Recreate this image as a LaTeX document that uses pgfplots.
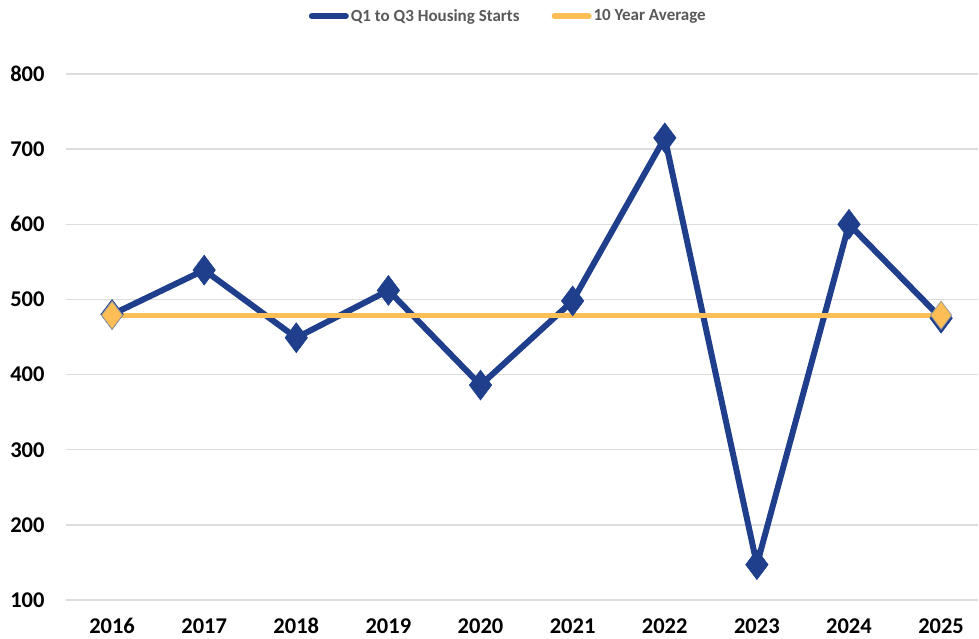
\documentclass[border=0pt]{standalone}
\usepackage{pgfplots}
\pgfplotsset{compat=1.18}
\usepackage{fontspec}
\setmainfont{Carlito}
\definecolor{blueline}{HTML}{1F3F8C}
\definecolor{orangeline}{HTML}{FDBE55}
\definecolor{gridgray}{HTML}{DDDDDD}
\definecolor{legtext}{HTML}{595959}
\begin{document}
\begin{tikzpicture}
\path[use as bounding box] (0,0) rectangle (979bp,-639bp);
\begin{axis}[
  at={(66bp,-600bp)}, anchor=south west,
  scale only axis, width=912bp, height=526bp,
  xmin=2015.5, xmax=2025.4, ymin=100, ymax=800,
  axis line style={draw=none},
  xtick={2016,...,2025}, ytick={100,200,...,800},
  xticklabel style={/pgf/number format/1000 sep={}},
  /pgf/number format/assume math mode=true,
  major tick length=0pt,
  ymajorgrids, grid style={gridgray, line width=1.5bp},
  tick label style={font=\fontsize{22.5bp}{24bp}\selectfont\bfseries, text=black},
  yticklabel style={xshift=-18bp},
  xticklabel style={yshift=-15bp, text height=15bp, text depth=0bp},
  legend columns=2,
  legend style={at={(0.485,1.11)}, anchor=center, draw=none, fill=none,
    font=\fontsize{17bp}{19bp}\selectfont\bfseries, text=legtext,
    /tikz/every even column/.append style={column sep=30bp}},
  legend image code/.code={\draw[#1, line width=6bp, line cap=round] (0bp,0bp) -- (34bp,0bp);},
]
\addplot[blueline, line width=6bp, mark=diamond*, mark size=15bp, mark options={fill=blueline, draw=blueline, line width=0.5bp}] coordinates {
(2016,480) (2017,539) (2018,449) (2019,512) (2020,386) (2021,498) (2022,715) (2023,147) (2024,600) (2025,475)};
\addlegendentry{Q1 to Q3 Housing Starts}
\addplot[orangeline, line width=5bp, mark=diamond*, mark size=14bp, mark indices={1,10}, mark options={fill=orangeline, draw=gray!80, line width=0.8bp}] coordinates {
(2016,479) (2017,479) (2018,479) (2019,479) (2020,479) (2021,479) (2022,479) (2023,479) (2024,479) (2025,479)};
\addlegendentry{10 Year Average}
\end{axis}
\end{tikzpicture}
\end{document}
